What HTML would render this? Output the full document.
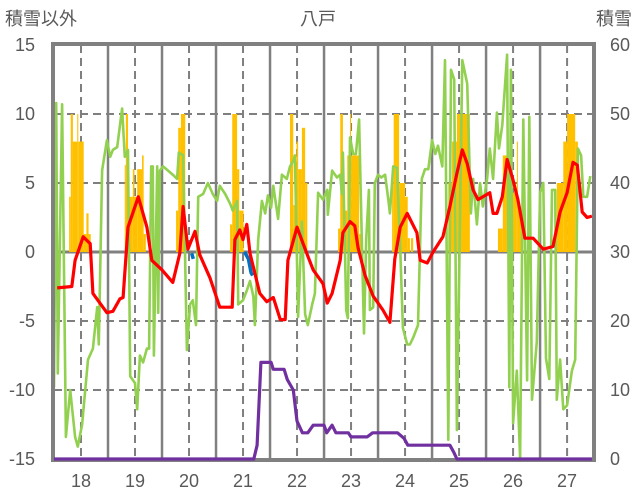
<!DOCTYPE html>
<html><head><meta charset="utf-8">
<style>
html,body{margin:0;padding:0;background:#fff;}
svg{display:block;font-family:"Liberation Sans","Noto Sans CJK JP",sans-serif;}
</style></head>
<body>
<svg id="chart" width="636" height="501" viewBox="0 0 636 501">
<g id="grid"></g>
<g id="bars"></g>
<g id="lines"></g>
<g id="frame"></g>
<g id="toplayer"></g>
<g id="labels"></g>
<text x="5" y="25" font-size="18" fill="#595959">積雪以外</text>
<text x="318" y="25" font-size="18" fill="#595959" text-anchor="middle">八戸</text>
<text x="632" y="25" font-size="18" fill="#595959" text-anchor="end">積雪</text>
</svg>
<script>
const xTicks=[18,19,20,21,22,23,24,25,26,27];
const leftTicks=[15,10,5,0,-5,-10,-15];
const rightTicks=[60,50,40,30,20,10,0];
const barSegs=[[17.78,17.81,4],[17.81,17.85,10],[17.85,17.93,8],[17.93,17.95,10],[17.95,18.05,8],[18.05,18.1,1.3],[18.1,18.14,2.8],[18.14,18.18,1.3],
[18.81,18.83,6.3],[18.83,18.87,10],[18.87,18.96,4],[18.96,18.99,6],[18.99,19.04,4],[19.04,19.13,6],[19.13,19.16,7],[19.16,19.2,1.3],
[19.76,19.8,3],[19.8,19.85,9],[19.85,19.93,10],
[20.76,20.8,2],[20.8,20.89,10],[20.89,20.93,6],[20.93,21.01,3],
[21.87,21.93,10],[21.93,21.99,3.4],[21.99,22.02,8],[22.02,22.09,6],[22.09,22.15,9],[22.15,22.19,5],
[22.76,22.8,1.7],[22.8,22.85,10],[22.85,22.93,3],[22.93,22.98,7],[22.98,23.0,10],[23.0,23.15,7],[23.15,23.22,1.3],
[23.76,23.79,6],[23.79,23.89,10],[23.89,24.0,5],[24.0,24.05,4],[24.05,24.09,1],[24.11,24.15,1],
[24.8,24.87,5],[24.87,24.96,8],[24.96,25.2,10],
[25.72,25.81,1.7],[25.81,25.89,7],[25.89,26.07,4.3],[26.07,26.09,8],[26.09,26.19,3],
[26.81,26.93,5],[26.93,27.0,8],[27.0,27.15,10],[27.15,27.2,8]];
const greenT=[17.5,17.54,17.57,17.65,17.72,17.8,17.89,17.94,18.02,18.13,18.22,18.3,18.33,18.39,18.48,18.54,18.59,18.67,18.76,18.81,18.87,18.91,19.0,19.04,19.09,19.15,19.22,19.26,19.3,19.33,19.35,19.41,19.43,19.46,19.52,19.61,19.7,19.78,19.81,19.89,19.96,20.02,20.07,20.13,20.17,20.26,20.35,20.44,20.52,20.57,20.67,20.76,20.81,20.89,20.91,21.0,21.07,21.13,21.19,21.22,21.28,21.35,21.41,21.46,21.52,21.56,21.65,21.72,21.81,21.87,21.93,21.96,22.02,22.09,22.15,22.2,22.28,22.33,22.39,22.48,22.56,22.57,22.65,22.74,22.8,22.83,22.85,22.91,22.94,22.98,23.04,23.09,23.15,23.2,23.24,23.28,23.33,23.35,23.41,23.44,23.5,23.56,23.63,23.69,23.72,23.78,23.85,23.91,23.96,24.04,24.09,24.15,24.24,24.31,24.37,24.43,24.5,24.56,24.61,24.69,24.74,24.8,24.85,24.91,24.96,25.06,25.15,25.22,25.26,25.33,25.39,25.44,25.52,25.57,25.63,25.7,25.74,25.8,25.89,25.93,25.96,26.0,26.07,26.13,26.19,26.26,26.3,26.35,26.44,26.5,26.56,26.61,26.67,26.72,26.78,26.81,26.87,26.93,27.0,27.09,27.15,27.2,27.26,27.3,27.37,27.43];
const greenV=[-9.8,10.8,-8.8,10.7,-13.4,-10,-13.4,-14.1,-12.5,-7.8,-7,-4,-6.7,5.9,8.1,6.9,7.4,7.6,10.4,6.9,7.4,-9,-9.5,-11.4,-7.5,-8,-7,-7,6.2,6.2,-7.5,6.2,-4.4,5.9,6.2,5.9,5.6,5.3,7.2,7.0,-7.1,-3.8,-3.5,-5.3,4.0,4.2,5.0,4.2,3.7,4.8,4.2,3.5,3.0,3.7,-3.8,-3.5,-2.8,-2.1,-3.2,-5.3,0.9,3.7,2.8,4.1,3.2,4.8,2.4,5.6,5.3,6.2,6.6,7.0,-4.7,2.2,-4.5,-5.3,-3.8,-3.0,4.3,3.8,4.5,2.7,5.9,5.4,5.6,4.2,7.2,-4.2,-4.8,8.3,7.1,7.1,9.6,0.9,-5.9,0.9,4.5,-4.2,-4,5.0,5.6,5.4,5.6,3.8,2.8,6.2,6.1,0.3,-5.5,-6.7,-6.7,-6.2,-5.3,5.3,6.0,6.0,8.1,7.1,7.7,6.2,13.9,-13.6,13.2,12.5,-12.9,13.9,12.2,2.8,5.3,2.0,5.0,3.3,5.3,7.5,5.3,10.1,7.5,9.2,14.3,-9.8,13.2,-12.4,-8.6,-14.9,9.6,-9.3,9.8,-10.7,-6.5,4.3,5.0,-7.7,-9.2,4.5,4.5,-10.7,-7.8,-11.4,-11.1,-8.6,-7.8,7.5,7.0,4.0,4.0,5.5];
const redT=[17.56,17.83,17.89,18.04,18.17,18.22,18.48,18.59,18.72,18.78,18.87,19.06,19.22,19.31,19.5,19.7,19.83,19.89,19.98,20.11,20.2,20.39,20.57,20.8,20.85,20.94,21.0,21.07,21.13,21.31,21.44,21.56,21.69,21.78,21.83,22.0,22.19,22.3,22.48,22.56,22.65,22.8,22.85,22.98,23.07,23.13,23.26,23.41,23.59,23.72,23.81,23.91,24.04,24.22,24.28,24.41,24.52,24.7,24.83,24.96,25.06,25.15,25.26,25.35,25.57,25.63,25.7,25.8,25.89,26.0,26.09,26.22,26.37,26.56,26.74,26.87,27.0,27.11,27.19,27.28,27.37,27.46];
const redV=[-2.6,-2.5,-0.6,1.1,0.6,-3,-4.4,-4.3,-3.4,-3.3,1.8,4.0,1.8,-0.6,-1.3,-2.2,-0.1,3.3,0.2,1.5,-0.2,-1.9,-4,-4,0.9,1.6,0.9,2.0,-0.1,-3.0,-3.6,-3.3,-4.9,-4.9,-0.6,1.8,-0.2,-1.3,-2.3,-3.7,-3.0,-0.6,1.4,2.2,1.9,0.3,-1.7,-3.2,-4.2,-5.1,-0.5,1.8,2.8,1.4,-0.6,-0.8,0,1.1,3.3,5.7,7.4,6.4,4.5,3.8,4.3,2.8,2.8,4.0,6.7,5.2,3.8,1.0,1.0,0.2,0.4,2.9,4.3,6.5,6.3,2.9,2.5,2.6];
const blueT=[20.05,20.08,21.03,21.1,21.15,21.18];
const blueV=[-0.1,-0.5,0,-0.5,-1.5,-1.7];
const purpleT=[17.5,21.2,21.26,21.33,21.52,21.56,21.76,21.82,21.93,22.0,22.1,22.2,22.3,22.5,22.55,22.65,22.72,22.95,23.0,23.3,23.4,23.86,23.98,24.05,24.83,24.9,24.96,27.46];
const purpleV=[0,0,2,14,14,13,13,11.5,10,5.5,3.8,3.8,4.9,4.9,3.8,4.9,3.8,3.8,3.2,3.2,3.8,3.8,3,2,2,1,0,0];

const NS='http://www.w3.org/2000/svg';
const X0=54,X1=593,Y0=45,Y1=459,T0=17.5,T1=27.48;
function xs(t){return X0+(t-T0)/(T1-T0)*(X1-X0);}
function yl(v){return Y1-(v+15)/30*(Y1-Y0);}
function yr(v){return Y1-v/60*(Y1-Y0);}
function mk(tag,attrs,parent){const e=document.createElementNS(NS,tag);for(const k in attrs)e.setAttribute(k,attrs[k]);parent.appendChild(e);return e;}
const gridG=document.getElementById('grid'),barsG=document.getElementById('bars'),linesG=document.getElementById('lines'),frameG=document.getElementById('frame'),labelsG=document.getElementById('labels'),topLayer=document.getElementById('toplayer');
leftTicks.forEach(v=>{
  if(v===15||v===-15)return;
  const g=mk('line',{x1:X0,x2:X1,y1:yl(v),y2:yl(v),stroke:v===0?'#808080':'#7f7f7f','stroke-width':v===0?3:2,'stroke-dasharray':v===0?'none':'8,5'},gridG);
  
  
});
xTicks.forEach(d=>{
  const g=mk('line',{x1:xs(d),x2:xs(d),y1:Y0,y2:Y1,stroke:'#7f7f7f','stroke-width':2,'stroke-dasharray':'8,5'},gridG);
  
  
  if(d<27.5){
    const s=mk('line',{x1:xs(d+0.5),x2:xs(d+0.5),y1:Y0,y2:Y1,stroke:'#808080','stroke-width':2.5},gridG);
    
    
  }
});
barSegs.forEach(b=>{
  const r=mk('rect',{x:xs(b[0]),y:yl(b[2]),width:Math.max(1,xs(b[1])-xs(b[0])),height:yl(0)-yl(b[2]),fill:'#ffc000'},barsG);
  
  
});
function path(T,V,yf){return T.map((t,i)=>(i?'L':'M')+xs(t).toFixed(1)+','+yf(V[i]).toFixed(1)).join('');}
const gp=mk('path',{d:path(greenT,greenV,yl),fill:'none',stroke:'#92d050','stroke-width':2.6,'stroke-linejoin':'round'},linesG);


const bp1=mk('path',{d:path(blueT.slice(0,2),blueV.slice(0,2),yl),fill:'none',stroke:'#0070c0','stroke-width':3.5},linesG);


const bp2=mk('path',{d:path(blueT.slice(2),blueV.slice(2),yl),fill:'none',stroke:'#0070c0','stroke-width':3.5},linesG);


const rp=mk('path',{d:path(redT,redV,yl),fill:'none',stroke:'#ff0000','stroke-width':3.2,'stroke-linejoin':'round'},linesG);


const fr=mk('rect',{x:X0-1,y:Y0-1,width:X1-X0+2,height:Y1-Y0+2,fill:'none',stroke:'#808080','stroke-width':4},frameG);


const pp=mk('path',{d:path(purpleT,purpleV,yr),fill:'none',stroke:'#7030a0','stroke-width':3.2,'stroke-linejoin':'round'},topLayer);


leftTicks.forEach(v=>{
  const t=mk('text',{x:35,y:yl(v)+6,'font-size':18,fill:'#595959','text-anchor':'end'},labelsG);
  t.textContent=v;
  
  
});
rightTicks.forEach(v=>{
  const t=mk('text',{x:610,y:yr(v)+6,'font-size':18,fill:'#595959'},labelsG);
  t.textContent=v;
  
  
});
xTicks.forEach(d=>{
  const t=mk('text',{x:xs(d),y:487,'font-size':18,fill:'#595959','text-anchor':'middle'},labelsG);
  t.textContent=d;
  
  
});
</script>
</body></html>
